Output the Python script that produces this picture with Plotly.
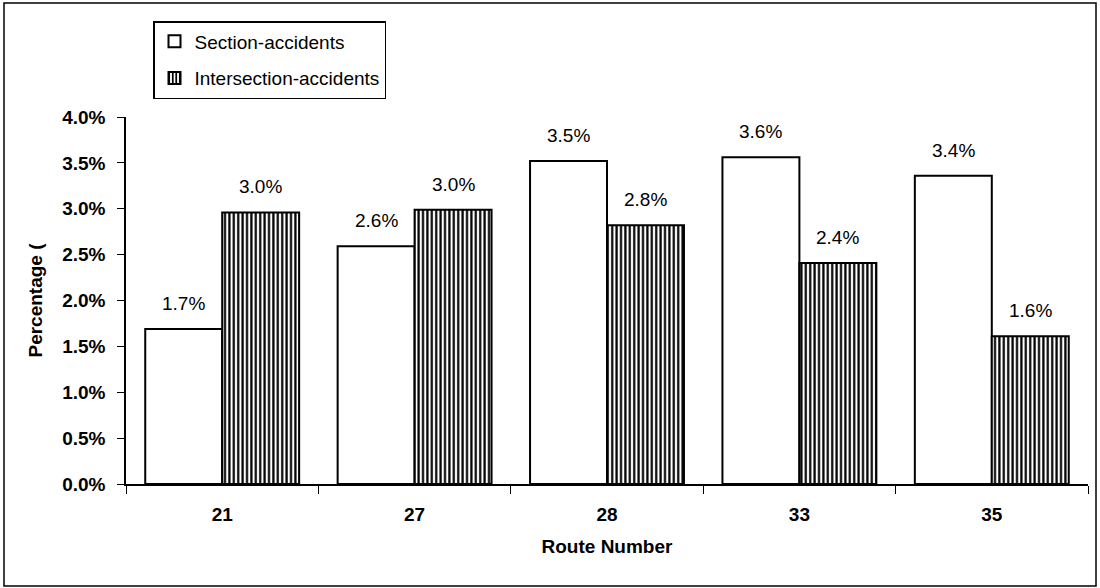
import plotly.graph_objects as go

routes = ["21", "27", "28", "33", "35"]
section_pct = [0.0169, 0.0259, 0.0352, 0.0356, 0.0336]
intersection_pct = [0.0296, 0.0299, 0.0282, 0.0241, 0.0161]
y_ticks = [0.0, 0.005, 0.01, 0.015, 0.02, 0.025, 0.03, 0.035, 0.04]

W, H = 1100, 588
L, R, T, B = 126, 12, 117, 104
plot_w = W - L - R
plot_h = H - T - B
bargap = 0.2
bar_w = plot_w / len(routes) * (1 - bargap) / 2

FONT = "Arial, Liberation Sans, sans-serif"
FS = 19

fig = go.Figure()
fig.add_trace(go.Bar(
    x=routes, y=section_pct, name="Section-accidents", legendgroup="s",
    marker=dict(color="white", line=dict(color="black", width=2)),
))
fig.add_trace(go.Bar(
    x=routes, y=intersection_pct, name="Intersection-accidents", legendgroup="i",
    marker=dict(color="white", line=dict(color="black", width=2),
                pattern=dict(shape="|", fgcolor="black", bgcolor="white",
                             size=4.4, solidity=0.5, fillmode="replace")),
))

# value labels above each bar (x given as category index)
for vals, shift in ((section_pct, -bar_w / 2), (intersection_pct, bar_w / 2)):
    for i, v in enumerate(vals):
        fig.add_annotation(x=i, y=v, text=f"{v * 100:.1f}%", showarrow=False,
                           xshift=shift, yshift=13, yanchor="bottom",
                           font=dict(size=FS, color="black", family=FONT))

# outer chart frame
fig.add_shape(type="rect", xref="paper", yref="paper",
              x0=(4 - L) / plot_w, x1=(W - 4 - L) / plot_w,
              y0=(T + plot_h - (H - 2)) / plot_h, y1=(T + plot_h - 3) / plot_h,
              line=dict(color="black", width=1.5), fillcolor="rgba(0,0,0,0)")

fig.update_layout(
    width=W, height=H,
    margin=dict(l=L, r=R, t=T, b=B, autoexpand=False),
    paper_bgcolor="white", plot_bgcolor="white",
    barmode="group", bargap=bargap, bargroupgap=0,
    font=dict(family=FONT, size=FS, color="black"),
    showlegend=True,
    legend=dict(x=(153 - L) / plot_w, y=(T + plot_h - 21) / plot_h,
                xanchor="left", yanchor="top", traceorder="grouped",
                bordercolor="black", borderwidth=1.5, bgcolor="white",
                font=dict(size=FS, family=FONT), itemsizing="constant",
                tracegroupgap=9),
    xaxis=dict(
        type="category", range=[-0.5, len(routes) - 0.5], automargin=False,
        showline=True, linecolor="black", linewidth=1.5,
        ticks="outside", tickson="boundaries", ticklen=8, tickcolor="black",
        ticklabelstandoff=12, showgrid=False, zeroline=False, tickangle=0,
        tickfont=dict(size=FS, family=FONT, weight="bold"),
        title=dict(text="<b>Route Number</b>", font=dict(size=FS), standoff=16),
    ),
    yaxis=dict(
        range=[0, 0.04], tickvals=y_ticks, tickformat=".1%", automargin=False,
        showline=True, linecolor="black", linewidth=1.5,
        ticks="outside", ticklen=7, tickcolor="black", ticklabelstandoff=8,
        showgrid=False, zeroline=False,
        tickfont=dict(size=FS, family=FONT, weight="bold"),
        title=dict(text="<b>Percentage (</b>", font=dict(size=FS), standoff=14),
    ),
)

fig.write_html("out.html", config={"displayModeBar": False},
               post_script="document.body.style.margin='0';")
